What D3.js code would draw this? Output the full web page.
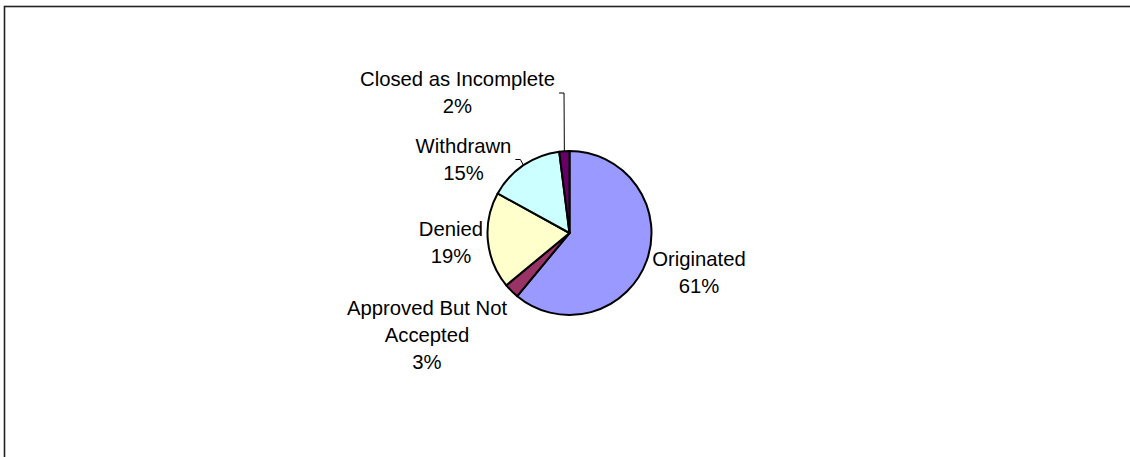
<!DOCTYPE html>
<html>
<head>
<meta charset="utf-8">
<script src="https://cdn.jsdelivr.net/npm/d3@7"></script>
<style>
  html, body { margin: 0; padding: 0; background: #fff; }
  svg { display: block; }
  text { font-family: "Liberation Sans", Arial, sans-serif; font-size: 20.3px; fill: #000; }
</style>
</head>
<body>
<svg id="chart" width="1130" height="457"></svg>
<script>
// Loan application outcomes
const categories = ["Originated", "Approved But Not Accepted", "Denied", "Withdrawn", "Closed as Incomplete"];
const values = [61, 3, 19, 15, 2];
const colors = ["#9999FF", "#993366", "#FFFFCC", "#CCFFFF", "#660066"];
// label text lines per slice (category wrapped, then percent)
const labelLines = [
  ["Originated"],
  ["Approved But Not", "Accepted"],
  ["Denied"],
  ["Withdrawn"],
  ["Closed as Incomplete"]
];
// label anchor offsets from the pie centre (first baseline, centred text)
const labelOffsets = [[129.5, 33], [-142.5, 82], [-118.5, 2.5], [-106, -80.5], [-112, -147]];
// slices whose label sits away from the pie get a leader line
const hasLeader = [false, false, false, true, true];

const W = 1130, H = 457;
const cx = 569.5, cy = 233, R = 82;
const lineH = 27;

const svg = d3.select("#chart");

// outer frame
svg.append("rect")
  .attr("x", 4.5).attr("y", 6.5)
  .attr("width", W + 20).attr("height", H + 20)
  .attr("fill", "#fff").attr("stroke", "#222").attr("stroke-width", 1.6);

const data = categories.map((c, i) => ({ name: c, value: values[i], i }));
const pie = d3.pie().value(d => d.value).sort(null);
const arcs = pie(data);
const arc = d3.arc().innerRadius(0).outerRadius(R);

const g = svg.append("g").attr("transform", `translate(${cx},${cy})`);

g.selectAll("path.slice")
  .data(arcs)
  .join("path")
  .attr("class", "slice")
  .attr("d", arc)
  .attr("fill", d => colors[d.data.i])
  .attr("stroke", "#000")
  .attr("stroke-width", 2)
  .attr("stroke-linejoin", "round");

// labels
arcs.forEach(a => {
  const i = a.data.i;
  const [ox, oy] = labelOffsets[i];
  const lines = labelLines[i].concat([d3.format(".0f")(a.data.value) + "%"]);
  const t = g.append("text")
    .attr("text-anchor", "middle")
    .attr("x", ox).attr("y", oy);
  lines.forEach((ln, k) => {
    t.append("tspan").attr("x", ox).attr("y", oy + k * lineH).text(ln);
  });

  if (hasLeader[i]) {
    const firstW = t.select("tspan").node().getComputedTextLength();
    const right = ox + firstW / 2;
    const ly = oy + 7;
    const mid = (a.startAngle + a.endAngle) / 2;
    const edge = [R * Math.sin(mid), -R * Math.cos(mid)];
    const pts = [[right + 4, ly], [right + 9, ly], edge];
    g.append("path")
      .attr("d", d3.line()(pts))
      .attr("fill", "none")
      .attr("stroke", "#000")
      .attr("stroke-width", 1);
  }
});
</script>
</body>
</html>
